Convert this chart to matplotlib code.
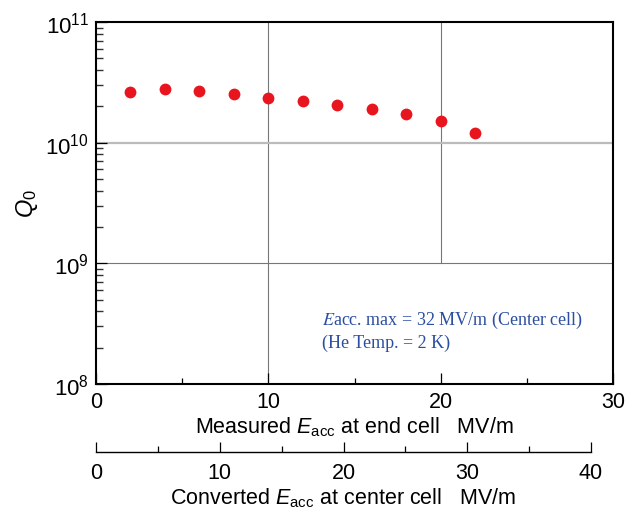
import numpy as np
import matplotlib
matplotlib.use('Agg')
import matplotlib.pyplot as plt
from matplotlib.ticker import FixedLocator, FuncFormatter, NullFormatter

plt.rcParams['font.family'] = 'Liberation Sans'
plt.rcParams['mathtext.fontset'] = 'custom'
plt.rcParams['mathtext.rm'] = 'Liberation Sans'
plt.rcParams['mathtext.it'] = 'Liberation Sans:italic'

# measured Eacc at end cell (MV/m) and Q0
e_acc = [2, 4, 6, 8, 10, 12, 14, 16, 18, 20, 22]
q0 = [2.65e10, 2.77e10, 2.67e10, 2.52e10, 2.36e10, 2.23e10,
      2.07e10, 1.90e10, 1.73e10, 1.51e10, 1.20e10]

x_ticks = [0, 10, 20, 30]
x2_ticks = [0, 10, 20, 30, 40]
y_ticks = [1e8, 1e9, 1e10, 1e11]
note = ['$E$acc. max = 32 MV/m (Center cell)', '(He Temp. = 2 K)']

W, H = 635, 510
fig = plt.figure(figsize=(W / 100, H / 100), dpi=100)
ax = fig.add_axes([96 / W, 1 - 385 / H, (613 - 96) / W, (385 - 23) / H])

ax.set_yscale('log')
ax.set_xlim(0, 30)
ax.set_ylim(1e8, 1e11)

# grid (partial, like the original)
ax.axvline(10, color='#777777', lw=0.8, zorder=1)
ax.axvline(20, ymin=1 / 3, color='#777777', lw=0.8, zorder=1)
ax.axhline(1e10, color='#bbbbbb', lw=1.6, zorder=1)
ax.axhline(1e9, color='#777777', lw=0.8, zorder=1)

ax.plot(e_acc, q0, 'o', color='#e8151f', ms=8.5, mec='none', zorder=3)

for s in ax.spines.values():
	s.set_linewidth(1.5)

ax.xaxis.set_major_locator(FixedLocator(x_ticks))
ax.xaxis.set_minor_locator(FixedLocator([5, 15, 25]))
ax.tick_params(axis='x', which='major', direction='in', length=8, width=0.9,
	labelsize=15.5, pad=5, top=False)
ax.tick_params(axis='x', which='minor', direction='in', length=4.5, width=0.9, top=False)

minor_y = [m * 10.0 ** e for e in (8, 9, 10) for m in range(2, 10)]
ax.yaxis.set_major_locator(FixedLocator(y_ticks))
ax.yaxis.set_minor_locator(FixedLocator(minor_y))
ax.yaxis.set_minor_formatter(NullFormatter())
ax.yaxis.set_major_formatter(FuncFormatter(lambda v, p: r'$10^{%d}$' % round(np.log10(v))))
ax.tick_params(axis='y', which='major', direction='in', length=8, width=0.9,
	labelsize=16, pad=5, right=False)
ax.tick_params(axis='y', which='minor', direction='in', length=5, width=1.0,
	color='#333333', right=False)

ax.set_xlabel(r'Measured $E_{\rm acc}$ at end cell   MV/m', fontsize=15.5, labelpad=2)
ax.set_ylabel(r'$Q_0$', fontsize=17, labelpad=4)

ax.text(13.1, 3.46e8, note[0], color='#2b4fa0', fontsize=13, va='center',
	family='Liberation Serif', math_fontfamily='stix')
ax.text(13.1, 2.23e8, note[1], color='#2b4fa0', fontsize=13, va='center',
	family='Liberation Serif')

# converted scale at center cell
ax2 = fig.add_axes([96 / W, 1 - 453 / H, (591 - 96) / W, 0.0001])
ax2.set_xlim(0, 40)
ax2.patch.set_visible(False)
for k in ['top', 'left', 'right']:
	ax2.spines[k].set_visible(False)
ax2.spines['bottom'].set_linewidth(1.0)
ax2.set_yticks([])
ax2.xaxis.set_major_locator(FixedLocator(x2_ticks))
ax2.xaxis.set_minor_locator(FixedLocator([5, 15, 25, 35]))
ax2.tick_params(axis='x', which='major', direction='in', length=7, width=0.9,
	labelsize=15.5, pad=7)
ax2.tick_params(axis='x', which='minor', direction='in', length=4, width=0.9)
ax2.set_xlabel(r'Converted $E_{\rm acc}$ at center cell   MV/m', fontsize=15.5, labelpad=2)

fig.savefig('out.png', dpi=100)
